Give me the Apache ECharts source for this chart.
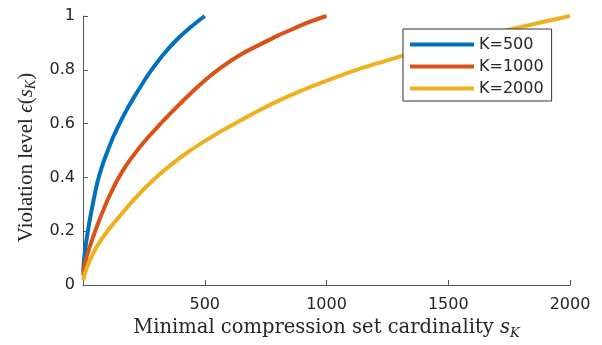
<!DOCTYPE html>
<html>
<head>
<meta charset="utf-8">
<script src="https://cdn.jsdelivr.net/npm/echarts@6/dist/echarts.min.js"></script>
<style>
  html, body { margin: 0; padding: 0; background: #fff; }
  #chart { width: 602px; height: 345px; }
</style>
</head>
<body>
<div id="chart"></div>
<script>
// values
const seriesNames = ["K=500", "K=1000", "K=2000"];
const colors = ["#0072BD", "#D95319", "#EDB120"];

const sK500 = [1, 4, 8, 14, 21, 30, 40, 50, 60, 75, 90, 105, 125, 150, 180, 213, 245, 278, 330, 380, 440, 500];
const eps500 = [0.05, 0.09, 0.125, 0.165, 0.205, 0.253, 0.3, 0.344, 0.385, 0.432, 0.472, 0.507, 0.552, 0.6, 0.652, 0.703, 0.75, 0.795, 0.857, 0.907, 0.957, 1.0];

const sK1000 = [1, 6, 12, 20, 30, 48, 70, 90, 115, 143, 180, 225, 270, 315, 370, 428, 500, 565, 650, 740, 800, 852, 930, 1000];
const eps1000 = [0.035, 0.07, 0.095, 0.12, 0.148, 0.195, 0.248, 0.293, 0.343, 0.393, 0.448, 0.503, 0.552, 0.596, 0.648, 0.7, 0.76, 0.807, 0.858, 0.9, 0.927, 0.948, 0.978, 1.0];

const sK2000 = [1, 10, 25, 55, 100, 150, 200, 250, 300, 370, 440, 500, 560, 650, 740, 840, 940, 1040, 1150, 1250, 1380, 1500, 1620, 1740, 1870, 2000];
const eps2000 = [0.018, 0.05, 0.085, 0.14, 0.2, 0.255, 0.308, 0.356, 0.4, 0.453, 0.5, 0.535, 0.568, 0.613, 0.657, 0.7, 0.738, 0.773, 0.808, 0.835, 0.87, 0.895, 0.92, 0.947, 0.974, 1.0];

const xTicks = [0, 500, 1000, 1500, 2000];
const yTicks = [0, 0.2, 0.4, 0.6, 0.8, 1];

const pairs = (xs, ys) => xs.map((x, i) => [x, ys[i]]);
const curves = [pairs(sK500, eps500), pairs(sK1000, eps1000), pairs(sK2000, eps2000)];

const chart = echarts.init(document.getElementById("chart"));

const axisColor = "#262626";
const serif = "'Liberation Serif', 'DejaVu Serif', serif";

chart.setOption({
  animation: false,
  grid: { left: 83, right: 32, top: 16, bottom: 57, containLabel: false },
  legend: {
    orient: "vertical",
    left: 403,
    top: 29,
    padding: [6, 8, 3, 7],
    itemGap: 3,
    itemWidth: 64,
    itemHeight: 4,
    itemTextGap: 5,
    icon: "rect",
    backgroundColor: "#fff",
    borderColor: "#333",
    borderWidth: 1,
    borderRadius: 0,
    textStyle: { fontFamily: "DejaVu Sans", fontSize: 16, color: axisColor, lineHeight: 19 },
    data: seriesNames
  },
  xAxis: {
    type: "value",
    min: xTicks[0],
    max: xTicks[xTicks.length - 1],
    interval: 500,
    name: "{a|Minimal compression set cardinality }{s|s}{k|K}",
    nameLocation: "middle",
    nameGap: 31,
    nameTextStyle: {
      color: axisColor,
      rich: {
        a: { fontFamily: "DejaVu Serif", fontSize: 19.5, lineHeight: 24, color: axisColor },
        s: { fontFamily: "DejaVu Serif", fontSize: 19.5, fontStyle: "italic", lineHeight: 24, color: axisColor },
        k: { fontFamily: "DejaVu Serif", fontSize: 13, fontStyle: "italic", lineHeight: 14, verticalAlign: "bottom", color: axisColor }
      }
    },
    axisLine: { show: true, lineStyle: { color: "#555", width: 1 } },
    axisTick: { show: true, inside: true, length: 5, lineStyle: { color: "#555" } },
    axisLabel: {
      margin: 12,
      fontFamily: "DejaVu Sans",
      fontSize: 16,
      color: axisColor,
      formatter: (v) => (v === 0 ? "" : String(v))
    },
    splitLine: { show: false }
  },
  yAxis: {
    type: "value",
    min: yTicks[0],
    max: yTicks[yTicks.length - 1],
    interval: 0.2,
    name: "{a|Violation level }{e|ϵ}{a|(}{s|s}{k|K}{a|)}",
    nameLocation: "middle",
    nameGap: 44,
    nameTextStyle: {
      color: axisColor,
      padding: [0, 14, 0, 0],
      rich: {
        a: { fontFamily: serif, fontSize: 21, lineHeight: 24, color: axisColor },
        e: { fontFamily: serif, fontSize: 21, fontStyle: "italic", lineHeight: 24, color: axisColor },
        s: { fontFamily: serif, fontSize: 21, fontStyle: "italic", lineHeight: 24, color: axisColor },
        k: { fontFamily: serif, fontSize: 14, fontStyle: "italic", lineHeight: 14, verticalAlign: "bottom", color: axisColor }
      }
    },
    axisLine: { show: true, lineStyle: { color: "#555", width: 1 } },
    axisTick: { show: true, inside: true, length: 5, lineStyle: { color: "#555" } },
    axisLabel: { margin: 8, fontFamily: "DejaVu Sans", fontSize: 16, color: axisColor },
    splitLine: { show: false }
  },
  series: curves.map((data, i) => ({
    name: seriesNames[i],
    type: "line",
    data: data,
    showSymbol: false,
    smooth: 0.3,
    color: colors[i],
    lineStyle: { width: 4, color: colors[i] },
    itemStyle: { color: colors[i] }
  }))
});
</script>
</body>
</html>
